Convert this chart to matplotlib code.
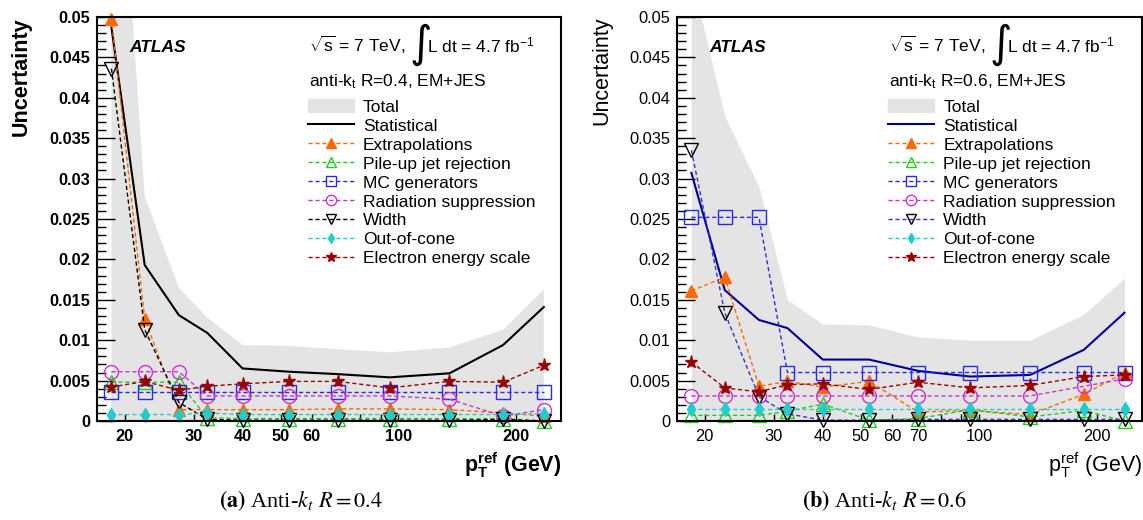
import matplotlib
matplotlib.use("Agg")
import matplotlib.pyplot as plt
from matplotlib.patches import Patch
from matplotlib.ticker import FixedLocator, MultipleLocator, FuncFormatter, NullFormatter

plt.rcParams['font.family'] = ['Liberation Sans', 'DejaVu Sans']
plt.rcParams['mathtext.fontset'] = 'custom'
plt.rcParams['mathtext.rm'] = 'Liberation Sans'
plt.rcParams['mathtext.it'] = 'Liberation Sans:italic'
plt.rcParams['mathtext.bf'] = 'Liberation Sans:bold'

# data ------------------------------------------------------------
pt = [18.5, 22.5, 27.5, 32.5, 40, 52.5, 70, 95, 135, 185, 235]

# anti-kt R=0.4
total04 = [0.088, 0.0278, 0.0165, 0.0128, 0.0094, 0.0093, 0.0089, 0.0085, 0.0091, 0.0113, 0.0163]
stat04 = [0.0487, 0.0193, 0.0131, 0.0109, 0.0065, 0.0061, 0.0058, 0.0054, 0.0059, 0.0094, 0.0141]
extrap04 = [0.0498, 0.0126, 0.0014, 0.0014, 0.0014, 0.0014, 0.0015, 0.0015, 0.0014, 0.0010, 0.0006]
pileup04 = [0.0048, 0.0048, 0.0048, 0.0004, 0.0003, 0.0003, 0.0003, 0.0003, 0.0003, 0.0003, 0.0]
mcgen04 = [0.0036, 0.0036, 0.0036, 0.0036, 0.0036, 0.0036, 0.0036, 0.0036, 0.0036, 0.0036, 0.0036]
radsup04 = [0.0061, 0.0061, 0.0061, 0.0031, 0.0031, 0.0031, 0.0031, 0.0031, 0.0027, 0.0006, 0.0014]
width04 = [0.0436, 0.0113, 0.0023, 0.0002, 0.0001, 0.0001, 0.0001, 0.0001, 0.0001, 0.0002, 0.0]
ooc04 = [0.0008, 0.0008, 0.0008, 0.0010, 0.0008, 0.0008, 0.0008, 0.0008, 0.0008, 0.0008, 0.0009]
elec04 = [0.0042, 0.0049, 0.0038, 0.0043, 0.0046, 0.0049, 0.0049, 0.0041, 0.0049, 0.0048, 0.0069]

# anti-kt R=0.6
total06 = [0.055, 0.0377, 0.029, 0.0150, 0.0120, 0.0119, 0.0104, 0.0100, 0.0100, 0.0132, 0.0177]
stat06 = [0.0307, 0.0162, 0.0125, 0.0115, 0.0076, 0.0076, 0.0062, 0.0055, 0.0057, 0.0088, 0.0134]
extrap06 = [0.0161, 0.0178, 0.0043, 0.0049, 0.0042, 0.0049, 0.0011, 0.0013, 0.0008, 0.0033, 0.0060]
pileup06 = [0.0007, 0.0007, 0.0007, 0.0012, 0.0021, 0.0001, 0.0003, 0.0014, 0.0005, 0.0013, 0.0]
mcgen06 = [0.0252, 0.0252, 0.0252, 0.0060, 0.0060, 0.0060, 0.0060, 0.0060, 0.0060, 0.0060, 0.0060]
radsup06 = [0.0031, 0.0031, 0.0031, 0.0031, 0.0031, 0.0031, 0.0031, 0.0031, 0.0031, 0.0043, 0.0052]
width06 = [0.0335, 0.0134, 0.0030, 0.0009, 0.0001, 0.0001, 0.0002, 0.0002, 0.0002, 0.0002, 0.0002]
ooc06 = [0.0015, 0.0015, 0.0015, 0.0015, 0.0015, 0.0015, 0.0015, 0.0015, 0.0015, 0.0015, 0.0015]
elec06 = [0.0073, 0.0041, 0.0036, 0.0045, 0.0046, 0.0039, 0.0048, 0.0041, 0.0044, 0.0055, 0.0057]

xlabels04 = [20, 30, 40, 50, 60, 100, 200]
xlabels06 = [20, 30, 40, 50, 60, 70, 100, 200]
xminor = [70, 80, 90]
names = ['Total', 'Statistical', 'Extrapolations', 'Pile-up jet rejection', 'MC generators',
         'Radiation suppression', 'Width', 'Out-of-cone', 'Electron energy scale']


def panel(ax, total, stat, extrap, pileup, mcgen, radsup, width, ooc, elec,
          xlabels, radius, statcolor, widthcolor, bold):
    weight = 'bold' if bold else 'normal'
    dash = (0, (3, 2))

    ax.fill_between(pt, 0, total, color='#e4e4e4', lw=0)
    h_stat, = ax.plot(pt, stat, color=statcolor, lw=1.5)
    kw = dict(ls=dash, lw=1.0, clip_on=False)
    h_ex, = ax.plot(pt, extrap, color='#ff6a00', marker='^', ms=9, **kw)
    h_pu, = ax.plot(pt, pileup, color='#22cc22', marker='^', ms=10, mfc='none', **kw)
    h_mc, = ax.plot(pt, mcgen, color='#2a2ae0', marker='s', ms=10, mfc='none', **kw)
    h_rs, = ax.plot(pt, radsup, color='#cc33cc', marker='o', ms=10, mfc='none', **kw)
    h_wd, = ax.plot(pt, width, color=widthcolor, marker='v', ms=10, mfc='none', mec='black', **kw)
    h_oc, = ax.plot(pt, ooc, color='#22cccc', marker='d', ms=7, **kw)
    h_el, = ax.plot(pt, elec, color='#990000', marker='*', ms=9.5, **kw)

    ax.set_xscale('log')
    ax.set_xlim(17, 260)
    ax.set_ylim(0, 0.05)

    ax.xaxis.set_major_locator(FixedLocator(xlabels))
    ax.xaxis.set_minor_locator(FixedLocator([m for m in xminor if m not in xlabels]))
    ax.xaxis.set_major_formatter(FuncFormatter(lambda v, p: '%d' % v))
    ax.xaxis.set_minor_formatter(NullFormatter())
    ax.yaxis.set_major_locator(MultipleLocator(0.005))
    ax.yaxis.set_minor_locator(MultipleLocator(0.001))
    ax.yaxis.set_major_formatter(FuncFormatter(lambda v, p: '%g' % round(v, 4)))

    ax.tick_params(which='both', direction='in', top=False, right=False, width=1.0)
    ax.tick_params(axis='y', which='major', length=13, pad=5)
    ax.tick_params(axis='y', which='minor', length=6.5)
    ax.tick_params(axis='x', which='both', length=5, pad=6)
    for t in ax.xaxis.get_major_ticks():
        if t.get_loc() == 100:
            t.tick1line.set_markersize(11.5)
    for lab in ax.get_xticklabels() + ax.get_yticklabels():
        lab.set_fontsize(11.8)
        lab.set_fontweight(weight)
    for s in ax.spines.values():
        s.set_linewidth(1.5)

    ax.set_ylabel('Uncertainty', fontsize=15.5, fontweight=weight, loc='top')
    ax.yaxis.set_label_coords(-0.14, 1.0)
    ax.set_xlabel(r'p$_\mathregular{T}^\mathregular{ref}$ (GeV)', fontsize=15.5, fontweight=weight, loc='right')
    ax.xaxis.set_label_coords(1.0, -0.072)

    ax.text(0.07, 0.925, 'ATLAS', transform=ax.transAxes, fontsize=12.5,
            fontweight='bold', fontstyle='italic', va='center')
    ax.text(0.457, 0.93, r'$\sqrt{\mathregular{s}}$ = 7 TeV,', transform=ax.transAxes,
            fontsize=12.5, va='center')
    ax.text(0.672, 0.93, r'$\int$', transform=ax.transAxes, fontsize=22, va='center',
            math_fontfamily='dejavusans')
    ax.text(0.711, 0.93, r'L dt = 4.7 fb$^\mathregular{-1}$', transform=ax.transAxes,
            fontsize=12.5, va='center')
    ax.text(0.457, 0.84, r'anti-k$_\mathregular{t}$ R=%s, EM+JES' % radius,
            transform=ax.transAxes, fontsize=12.5, va='center')

    handles = [Patch(color='#e4e4e4'), h_stat, h_ex, h_pu, h_mc, h_rs, h_wd, h_oc, h_el]
    ax.legend(handles, names, loc='upper left', bbox_to_anchor=(0.455, 0.797),
              frameon=False, fontsize=12.5, handlelength=2.65, handletextpad=0.5,
              labelspacing=0.19, borderpad=0, borderaxespad=0, handleheight=0.8,
              markerscale=0.75)


fig = plt.figure(figsize=(11.43, 5.2), dpi=100)
ax1 = fig.add_axes([0.0849, 0.1904, 0.4059, 0.777])
ax2 = fig.add_axes([0.5923, 0.1904, 0.4066, 0.777])

panel(ax1, total04, stat04, extrap04, pileup04, mcgen04, radsup04, width04, ooc04, elec04,
      xlabels04, '0.4', 'black', 'black', True)
panel(ax2, total06, stat06, extrap06, pileup06, mcgen06, radsup06, width06, ooc06, elec06,
      xlabels06, '0.6', '#000099', '#3333cc', False)

fig.text(0.263, 0.038, r'$\mathbf{(a)}$ Anti-$k_t$ $R = 0.4$', ha='center', va='center',
         fontsize=16, family='Liberation Serif', math_fontfamily='stix')
fig.text(0.774, 0.038, r'$\mathbf{(b)}$ Anti-$k_t$ $R = 0.6$', ha='center', va='center',
         fontsize=16, family='Liberation Serif', math_fontfamily='stix')

fig.savefig('out.png', dpi=100)
